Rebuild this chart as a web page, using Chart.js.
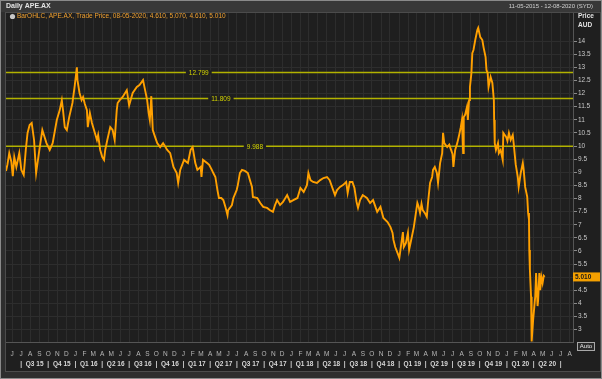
<!DOCTYPE html>
<html>
<head>
<meta charset="utf-8">
<script src="https://cdn.jsdelivr.net/npm/chart.js@4.4.1/dist/chart.umd.min.js"></script>
<style>
  html, body { margin: 0; padding: 0; background: #2e2e2e; }
  canvas { display: block; }
</style>
</head>
<body>
<canvas id="grafico" width="602" height="379"></canvas>
<script>
// Dados (fechamento aproximado)
const datas = [
  '2015-05-11','2015-05-16','2015-05-22','2015-05-29','2015-06-03','2015-06-08','2015-06-15','2015-06-25',
  '2015-07-02','2015-07-10','2015-07-17','2015-07-23','2015-07-30','2015-08-06','2015-08-14','2015-08-21',
  '2015-09-01','2015-09-11','2015-09-25','2015-10-06','2015-10-16','2015-10-30','2015-11-09','2015-11-16',
  '2015-11-20','2015-11-26','2015-12-03','2015-12-11','2015-12-22','2015-12-30','2016-01-06','2016-01-08',
  '2016-01-15','2016-01-22','2016-01-27','2016-02-02','2016-02-09','2016-02-12','2016-02-19','2016-02-26',
  '2016-03-07','2016-03-14','2016-03-18','2016-03-25','2016-04-01','2016-04-07','2016-04-11','2016-04-18',
  '2016-04-28','2016-05-06','2016-05-13','2016-05-20','2016-05-23','2016-05-30','2016-06-09','2016-06-23',
  '2016-07-01','2016-07-13','2016-07-27','2016-08-05','2016-08-17','2016-08-24','2016-08-31','2016-09-05',
  '2016-09-09','2016-09-14','2016-09-19','2016-09-27','2016-10-04','2016-10-14','2016-10-24','2016-11-07',
  '2016-11-17','2016-11-28','2016-12-09','2016-12-14','2016-12-21','2017-01-03','2017-01-16','2017-01-25',
  '2017-02-01','2017-02-10','2017-02-17','2017-02-28','2017-03-03','2017-03-08','2017-03-22','2017-03-29',
  '2017-04-07','2017-04-12','2017-04-19','2017-04-26','2017-05-01','2017-05-09','2017-05-16','2017-05-23',
  '2017-05-30','2017-06-01','2017-06-07','2017-06-14','2017-06-19','2017-06-30','2017-07-04','2017-07-11',
  '2017-07-18','2017-07-28','2017-08-07','2017-08-14','2017-08-21','2017-08-24','2017-09-08','2017-09-18',
  '2017-09-28','2017-10-11','2017-10-20','2017-10-31','2017-11-07','2017-11-14','2017-11-24','2017-12-04',
  '2017-12-18','2017-12-28','2018-01-08','2018-01-22','2018-02-01','2018-02-12','2018-02-23','2018-02-28',
  '2018-03-07','2018-03-16','2018-03-29','2018-04-09','2018-04-20','2018-05-02','2018-05-11','2018-05-23',
  '2018-05-29','2018-06-05','2018-06-15','2018-06-25','2018-07-06','2018-07-11','2018-07-18','2018-07-27',
  '2018-08-03','2018-08-10','2018-08-15','2018-08-22','2018-08-31','2018-09-14','2018-09-25','2018-10-05',
  '2018-10-19','2018-10-30','2018-11-09','2018-11-23','2018-12-03','2018-12-10','2018-12-13','2018-12-19',
  '2018-12-27','2019-01-02','2019-01-07','2019-01-14','2019-01-17','2019-01-24','2019-01-31','2019-02-04',
  '2019-02-11','2019-02-20','2019-02-27','2019-03-04','2019-03-08','2019-03-13','2019-03-18','2019-03-22',
  '2019-03-29','2019-04-05','2019-04-09','2019-04-16','2019-04-23','2019-04-26','2019-05-02','2019-05-09',
  '2019-05-13','2019-05-20','2019-05-27','2019-05-30','2019-06-03','2019-06-13','2019-06-20','2019-06-24',
  '2019-07-01','2019-07-04','2019-07-10','2019-07-17','2019-07-22','2019-07-29','2019-08-02','2019-08-06',
  '2019-08-08','2019-08-13','2019-08-19','2019-08-22','2019-08-26','2019-08-29','2019-09-03','2019-09-06',
  '2019-09-10','2019-09-16','2019-09-23','2019-09-26','2019-10-03','2019-10-10','2019-10-14','2019-10-21',
  '2019-10-24','2019-10-28','2019-10-31','2019-11-07','2019-11-13','2019-11-18','2019-11-19','2019-11-21',
  '2019-11-25','2019-12-02','2019-12-05','2019-12-11','2019-12-18','2019-12-20','2019-12-30','2020-01-03',
  '2020-01-08','2020-01-14','2020-01-21','2020-01-24','2020-01-31','2020-02-07','2020-02-10','2020-02-17',
  '2020-02-24','2020-02-27','2020-03-03','2020-03-10','2020-03-13','2020-03-16','2020-03-17','2020-03-19',
  '2020-03-23','2020-03-24','2020-03-25','2020-03-26','2020-03-30','2020-04-02','2020-04-06','2020-04-09',
  '2020-04-14','2020-04-16','2020-04-20','2020-04-23','2020-04-27','2020-05-01','2020-05-05','2020-05-08'
];
const precos = [
  9.05, 9.30, 9.73, 9.40, 8.85, 9.58, 9.20, 9.73,
  9.09, 8.90, 9.85, 10.50, 10.80, 10.88, 10.23, 8.97,
  9.85, 10.61, 10.11, 9.85, 10.11, 10.99, 11.37, 11.75,
  11.37, 10.72, 10.61, 11.10, 11.64, 12.32, 13.00, 12.51,
  12.02, 11.75, 11.87, 11.60, 11.37, 10.72, 11.26, 10.88,
  10.50, 10.23, 10.42, 9.85, 9.58, 9.47, 9.85, 10.23,
  10.72, 10.61, 10.23, 11.37, 11.64, 11.75, 11.87, 12.13,
  11.55, 12.02, 12.25, 12.32, 12.51, 12.13, 11.75, 11.26,
  10.99, 11.90, 10.61, 10.34, 10.11, 9.96, 10.11, 9.85,
  9.73, 9.20, 8.97, 8.59, 9.09, 9.47, 9.35, 9.85,
  9.96, 9.35, 9.09, 9.20, 8.82, 9.47, 9.35, 9.28,
  9.09, 8.97, 8.82, 8.32, 8.02, 8.02, 7.94, 7.68,
  7.37, 7.55, 7.64, 7.75, 8.02, 8.32, 8.51, 8.97,
  9.09, 9.05, 8.97, 8.70, 8.44, 8.06, 8.02, 7.83,
  7.68, 7.64, 7.56, 7.49, 7.75, 7.94, 7.75, 7.87,
  8.13, 7.87, 7.94, 8.02, 8.40, 8.25, 8.51, 8.97,
  8.70, 8.63, 8.59, 8.70, 8.78, 8.82, 8.70, 8.32,
  8.13, 8.32, 8.44, 8.51, 8.63, 8.21, 8.63, 8.63,
  8.40, 7.87, 7.64, 7.94, 8.13, 8.02, 7.83, 7.94,
  7.49, 7.68, 7.26, 7.10, 6.91, 6.69, 6.42, 6.15,
  5.92, 5.74, 6.15, 6.72, 6.15, 6.30, 6.69, 6.04,
  6.42, 6.91, 7.45, 7.83, 7.70, 7.45, 7.80, 7.56,
  7.45, 7.30, 7.83, 8.59, 8.82, 9.09, 9.20, 8.97,
  8.59, 9.35, 9.73, 10.50, 10.11, 9.96, 10.05, 9.92,
  9.70, 9.20, 9.85, 10.11, 10.34, 10.72, 10.99, 9.73,
  11.10, 11.20, 11.49, 10.99, 11.75, 12.25, 12.78, 13.54,
  13.66, 14.04, 14.42, 14.50, 14.15, 14.04, 13.77, 13.39,
  12.90, 12.78, 12.25, 12.63, 12.40, 11.75, 10.99, 10.11,
  9.85, 10.11, 9.73, 9.85, 9.47, 10.50, 10.34, 10.20,
  10.50, 10.23, 10.42, 10.11, 9.30, 8.82, 8.44, 8.97,
  9.35, 9.09, 8.44, 8.06, 7.45, 7.18, 6.04, 5.28,
  4.25, 3.87, 3.49, 2.55, 3.37, 3.75, 4.25, 5.16,
  3.90, 4.13, 5.16, 4.51, 5.01, 4.78, 5.05, 5.01
];

// Linhas horizontais de referência
const niveis = [12.799, 11.809, 9.988];
const niveisPosX = [0.34, 0.379, 0.439]; // posição do rótulo (fração da largura)

// Eixos
const yTicks = [3, 3.5, 4, 4.5, 5, 5.5, 6, 6.5, 7, 7.5, 8, 8.5, 9, 9.5, 10, 10.5, 11, 11.5, 12, 12.5, 13, 13.5, 14];
const letrasMes = ['J', 'F', 'M', 'A', 'M', 'J', 'J', 'A', 'S', 'O', 'N', 'D'];
const trimestres = ['Q3 15', 'Q4 15', 'Q1 16', 'Q2 16', 'Q3 16', 'Q4 16', 'Q1 17', 'Q2 17', 'Q3 17', 'Q4 17',
  'Q1 18', 'Q2 18', 'Q3 18', 'Q4 18', 'Q1 19', 'Q2 19', 'Q3 19', 'Q4 19', 'Q1 20', 'Q2 20'];

const inicio = '2015-05-11';
const fim = '2020-08-12';
const legendaTexto = 'BarOHLC, APE.AX, Trade Price, 08-05-2020, 4.610, 5.070, 4.610, 5.010';

const dia = s => Date.parse(s) / 864e5;
const xMin = dia(inicio);
const xMax = dia(fim);

// ticks mensais (início de cada mês)
const ticksMes = [];
for (let a = 2015, m = 5; a < 2020 || m <= 7; m++) {
  if (m > 11) { m = 0; a++; }
  ticksMes.push(Date.UTC(a, m, 1) / 864e5);
}

// ticks trimestrais: '|' no início e rótulo no meio do trimestre
const ticksTri = [];
const rotulosTri = [];
trimestres.forEach(q => {
  const t = parseInt(q[1]);
  const a = 2000 + parseInt(q.slice(3));
  const ini = Date.UTC(a, (t - 1) * 3, 1) / 864e5;
  const prox = Date.UTC(a, t * 3, 1) / 864e5;
  ticksTri.push(ini); rotulosTri.push('|');
  ticksTri.push((ini + prox) / 2); rotulosTri.push(q);
});
ticksTri.push(Date.UTC(2020, 6, 1) / 864e5); rotulosTri.push('|');

const fonte = 'Liberation Sans, Arial, sans-serif';
Chart.defaults.font.family = fonte;

const datasets = [{
  data: datas.map((d, i) => ({ x: dia(d), y: precos[i] })),
  borderColor: '#ffa000',
  borderWidth: 1.9,
  pointRadius: 0,
  tension: 0
}];
niveis.forEach(v => {
  datasets.push({
    data: [{ x: xMin, y: v }, { x: xMax, y: v }],
    borderColor: '#b2b200',
    borderWidth: 1.5,
    pointRadius: 0
  });
});

const moldura = {
  id: 'moldura',
  beforeDraw(chart) {
    const c = chart.ctx;
    c.save();
    c.fillStyle = '#2e2e2e';
    c.fillRect(0, 0, 602, 379);
    c.fillStyle = '#383838';
    c.fillRect(1, 1, 600, 11);
    c.fillStyle = '#1f1f1f';
    c.fillRect(5, 12, 596, 360);
    c.strokeStyle = '#4c4c4c';
    c.strokeRect(5.5, 12.5, 595, 359);
    c.strokeStyle = '#8a8a8a';
    c.strokeRect(0.5, 0.5, 601, 378);
    c.restore();
  },
  afterDatasetsDraw(chart) {
    const c = chart.ctx;
    const area = chart.chartArea;
    const y = chart.scales.y;
    c.save();
    c.font = '6.5px ' + fonte;
    c.textBaseline = 'middle';
    c.textAlign = 'center';
    niveis.forEach((v, i) => {
      const px = area.left + niveisPosX[i] * (area.right - area.left);
      const py = y.getPixelForValue(v);
      const txt = v.toFixed(3);
      const w = c.measureText(txt).width + 6;
      c.fillStyle = '#1f1f1f';
      c.fillRect(px - w / 2, py - 2, w, 4);
      c.fillStyle = '#d2d200';
      c.fillText(txt, px, py + 0.5);
    });
    c.restore();
  },
  afterDraw(chart) {
    const c = chart.ctx;
    const y = chart.scales.y;
    c.save();
    c.textBaseline = 'middle';
    // barra de título
    c.fillStyle = '#e4e4e4';
    c.font = 'bold 7px ' + fonte;
    c.textAlign = 'left';
    c.fillText('Daily APE.AX', 6, 6.5);
    c.font = '6px ' + fonte;
    c.textAlign = 'right';
    c.fillStyle = '#d0d0d0';
    c.fillText(inicio.split('-').reverse().join('-') + ' - ' + fim.split('-').reverse().join('-') + ' (SYD)', 593, 6.5);
    // legenda
    c.beginPath();
    c.arc(12.5, 16.5, 2.6, 0, Math.PI * 2);
    c.fillStyle = '#c8c8c8';
    c.fill();
    c.textAlign = 'left';
    c.font = '6.5px ' + fonte;
    c.fillStyle = '#f0a030';
    c.fillText(legendaTexto, 17, 16.5);
    // título do eixo
    c.font = 'bold 6.5px ' + fonte;
    c.fillStyle = '#e4e4e4';
    c.fillText('Price', 578, 16.5);
    c.fillText('AUD', 578, 25);
    // último preço
    const ultimo = precos[precos.length - 1];
    const py = y.getPixelForValue(ultimo);
    c.fillStyle = '#f5a000';
    c.fillRect(573, py - 4.5, 27, 9);
    c.fillStyle = '#1a1a1a';
    c.font = 'bold 6.5px ' + fonte;
    c.fillText(ultimo.toFixed(3), 575, py + 0.5);
    // botão Auto
    c.fillStyle = '#2a2a2a';
    c.fillRect(577.5, 342.5, 17, 8);
    c.strokeStyle = '#a8a8a8';
    c.strokeRect(577.5, 342.5, 17, 8);
    c.fillStyle = '#e8e8e8';
    c.font = '6px ' + fonte;
    c.textAlign = 'center';
    c.fillText('Auto', 586, 346.8);
    c.restore();
  }
};

const ctx = document.getElementById('grafico').getContext('2d');
new Chart(ctx, {
  type: 'line',
  data: { datasets: datasets },
  options: {
    responsive: false,
    animation: false,
    devicePixelRatio: 1,
    layout: { padding: { left: 6, top: 13, right: 0, bottom: 7 } },
    plugins: {
      legend: { display: false },
      tooltip: { enabled: false }
    },
    scales: {
      x: {
        type: 'linear', min: xMin, max: xMax, position: 'bottom', weight: 0,
        afterBuildTicks: s => { s.ticks = ticksMes.map(v => ({ value: v })); },
        afterFit: s => { s.height = 18; },
        grid: { color: '#2d2d2d', drawTicks: false },
        border: { color: '#555555' },
        ticks: {
          autoSkip: false, maxRotation: 0, padding: 8,
          color: '#b8b8b8', font: { size: 6.5 },
          callback: v => letrasMes[new Date(v * 864e5).getUTCMonth()]
        }
      },
      x2: {
        type: 'linear', min: xMin, max: xMax, position: 'bottom', weight: 1,
        afterBuildTicks: s => { s.ticks = ticksTri.map(v => ({ value: v })); },
        afterFit: s => { s.height = 12; },
        grid: { display: false, drawTicks: false },
        border: { display: false },
        ticks: {
          autoSkip: false, maxRotation: 0, padding: 0,
          color: '#d8d8d8', font: { size: 6.5, weight: 'bold' },
          callback: (v, i) => rotulosTri[i]
        }
      },
      y: {
        type: 'linear', position: 'right', min: 2.53, max: 15.07,
        afterBuildTicks: s => { s.ticks = yTicks.map(v => ({ value: v })); },
        afterFit: s => { s.width = 29; },
        grid: { color: '#2d2d2d', tickLength: 4, tickColor: '#8a8a8a' },
        border: { color: '#555555' },
        ticks: {
          padding: 1, color: '#c8c8c8', font: { size: 6.5 },
          callback: v => String(v)
        }
      }
    }
  },
  plugins: [moldura]
});
</script>
</body>
</html>
